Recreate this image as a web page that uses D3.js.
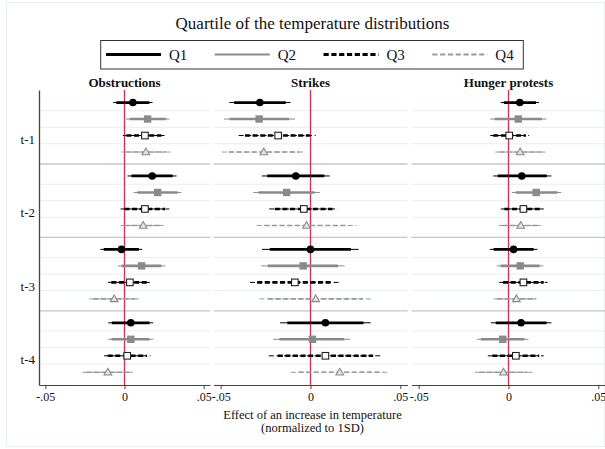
<!DOCTYPE html>
<html><head><meta charset="utf-8">
<script src="https://cdn.jsdelivr.net/npm/d3@7"></script>
<style>body{margin:0;background:#fff;} svg{display:block;font-family:"Liberation Serif","Times New Roman",serif;}</style>
</head><body>
<svg id="chart" width="605" height="449"></svg>
<script>
const outcomes = ["Obstructions", "Strikes", "Hunger protests"];
const lags = ["t-1", "t-2", "t-3", "t-4"];
const quartiles = ["Q1", "Q2", "Q3", "Q4"];
const xTicks = [-0.05, 0, 0.05];
const xTickLabels = ["-.05", "0", ".05"];

// rows: lag (t-1..t-4), columns: quartile (Q1..Q4)
const obstructionsEst  = [[0.0053, 0.0146, 0.0129, 0.0135],[0.0175, 0.0209, 0.0129, 0.0118],[-0.0019, 0.0108, 0.0034, -0.0065],[0.0040, 0.0040, 0.0017, -0.0105]];
const obstructionsLo95 = [[-0.0072, 0.0010, -0.0010, -0.0019],[0.0019, 0.0057, -0.0025, -0.0025],[-0.0152, -0.0042, -0.0105, -0.0222],[-0.0103, -0.0105, -0.0129, -0.0266]];
const obstructionsHi95 = [[0.0177, 0.0283, 0.0253, 0.0290],[0.0329, 0.0359, 0.0283, 0.0260],[0.0112, 0.0257, 0.0160, 0.0091],[0.0181, 0.0181, 0.0165, 0.0053]];
const obstructionsLo90 = [[-0.0052, 0.0032, 0.0012, 0.0006],[0.0044, 0.0081, 0.0000, -0.0002],[-0.0131, -0.0018, -0.0083, -0.0197],[-0.0080, -0.0082, -0.0106, -0.0240]];
const obstructionsHi90 = [[0.0157, 0.0261, 0.0233, 0.0265],[0.0304, 0.0335, 0.0258, 0.0237],[0.0091, 0.0233, 0.0140, 0.0066],[0.0158, 0.0158, 0.0141, 0.0028]];

const strikesEst  = [[-0.0282, -0.0286, -0.0180, -0.0260],[-0.0082, -0.0133, -0.0037, -0.0022],[0.0000, -0.0041, -0.0087, 0.0029],[0.0083, 0.0011, 0.0083, 0.0163]];
const strikesLo95 = [[-0.0452, -0.0482, -0.0400, -0.0493],[-0.0271, -0.0319, -0.0230, -0.0300],[-0.0270, -0.0276, -0.0337, -0.0285],[-0.0169, -0.0208, -0.0232, -0.0110]];
const strikesHi95 = [[-0.0111, -0.0087, 0.0029, -0.0026],[0.0107, 0.0052, 0.0152, 0.0256],[0.0268, 0.0190, 0.0163, 0.0342],[0.0335, 0.0222, 0.0400, 0.0439]];
const strikesLo90 = [[-0.0425, -0.0451, -0.0365, -0.0456],[-0.0241, -0.0289, -0.0199, -0.0256],[-0.0227, -0.0238, -0.0297, -0.0235],[-0.0129, -0.0173, -0.0182, -0.0066]];
const strikesHi90 = [[-0.0138, -0.0119, -0.0004, -0.0063],[0.0077, 0.0022, 0.0122, 0.0212],[0.0225, 0.0153, 0.0123, 0.0292],[0.0295, 0.0188, 0.0349, 0.0395]];

const hungerEst  = [[0.0063, 0.0054, 0.0004, 0.0065],[0.0074, 0.0154, 0.0083, 0.0068],[0.0028, 0.0065, 0.0083, 0.0044],[0.0070, -0.0032, 0.0041, -0.0028]];
const hungerLo95 = [[-0.0043, -0.0102, -0.0102, -0.0074],[-0.0085, 0.0018, -0.0043, -0.0054],[-0.0104, -0.0065, -0.0052, -0.0083],[-0.0098, -0.0176, -0.0115, -0.0187]];
const hungerHi95 = [[0.0170, 0.0211, 0.0115, 0.0205],[0.0239, 0.0294, 0.0209, 0.0180],[0.0161, 0.0194, 0.0218, 0.0172],[0.0239, 0.0111, 0.0196, 0.0133]];
const hungerLo90 = [[-0.0026, -0.0077, -0.0085, -0.0052],[-0.0060, 0.0040, -0.0023, -0.0034],[-0.0083, -0.0044, -0.0030, -0.0063],[-0.0071, -0.0153, -0.0090, -0.0162]];
const hungerHi90 = [[0.0153, 0.0186, 0.0097, 0.0183],[0.0213, 0.0272, 0.0189, 0.0162],[0.0140, 0.0173, 0.0196, 0.0152],[0.0212, 0.0088, 0.0171, 0.0107]];

const panelData = [
  {est: obstructionsEst, lo95: obstructionsLo95, hi95: obstructionsHi95, lo90: obstructionsLo90, hi90: obstructionsHi90},
  {est: strikesEst, lo95: strikesLo95, hi95: strikesHi95, lo90: strikesLo90, hi90: strikesHi90},
  {est: hungerEst, lo95: hungerLo95, hi95: hungerHi95, lo90: hungerLo90, hi90: hungerHi90}
];

// styles per quartile
const qColor = ["#000000", "#8a8a8a", "#000000", "#9a9a9a"];
const qDash = [null, null, "5,2.6", "5,2.6"];
const qThin = [1, 1, 1, 1];
const qThick = [2.8, 2.6, 2.6, 1.6];

const svg = d3.select("#chart");

// outer frame
svg.append("rect").attr("x", 6.5).attr("y", 2.5).attr("width", 598).attr("height", 444)
  .attr("fill", "#fff").attr("stroke", "#e9eef0").attr("stroke-width", 1);

// title
svg.append("text").attr("x", 312.5).attr("y", 29).attr("text-anchor", "middle")
  .attr("font-size", 17).attr("fill", "#111").text("Quartile of the temperature distributions");

// legend
const legend = svg.append("g");
legend.append("rect").attr("x", 100.7).attr("y", 40.5).attr("width", 422.6).attr("height", 28.5)
  .attr("fill", "#fff").attr("stroke", "#333").attr("stroke-width", 1);
const legX = d3.scalePoint().domain(quartiles).range([106, 432.3]);
const legW = [2.8, 2.2, 2.8, 2.0];
quartiles.forEach((q, i) => {
  const x0 = legX(q);
  legend.append("line").attr("x1", x0).attr("x2", x0 + 55).attr("y1", 54.5).attr("y2", 54.5)
    .attr("stroke", qColor[i]).attr("stroke-width", legW[i])
    .attr("stroke-dasharray", qDash[i] ? "5.2,2.6" : null);
  legend.append("text").attr("x", x0 + 63).attr("y", 59.5).attr("font-size", 15).attr("fill", "#111").text(q);
});

// y scale: slot index = lag*4.45 + quartile
const gapStep = 4.45;
const y = d3.scaleLinear().domain([-0.76, 17.12]).range([90, 385]);
const slot = (g, q) => g * gapStep + q;

const panelRanges = [[39, 210], [213.5, 407.5], [411.5, 605.5]];
const xDomain = [-0.054, 0.054];

outcomes.forEach((name, p) => {
  const x = d3.scaleLinear().domain(xDomain).range(panelRanges[p]);
  const g = svg.append("g");
  const [x0, x1] = panelRanges[p];

  g.append("text").attr("x", (x0 + x1) / 2).attr("y", 86.5).attr("text-anchor", "middle")
    .attr("font-size", 13).attr("font-weight", "bold").attr("fill", "#111").text(name);

  lags.forEach((lag, gi) => {
    for (let q = 0; q < 3; q++) {
      g.append("line").attr("x1", x0).attr("x2", x1)
        .attr("y1", y(slot(gi, q) + 0.5)).attr("y2", y(slot(gi, q) + 0.5))
        .attr("stroke", "#e6eef1").attr("stroke-width", 1);
    }
    if (gi < lags.length - 1) {
      const ys = y(slot(gi, 3) + (gapStep - 3) / 2);
      g.append("line").attr("x1", x0).attr("x2", x1).attr("y1", ys).attr("y2", ys)
        .attr("stroke", "#c6c6c6").attr("stroke-width", 1.4);
    }
  });

  g.append("line").attr("x1", x(0)).attr("x2", x(0)).attr("y1", y.range()[0]).attr("y2", y.range()[1])
    .attr("stroke", "#d92a55").attr("stroke-width", 1.3);

  const ax = g.append("g").attr("transform", `translate(0,${y.range()[1]})`)
    .call(d3.axisBottom(x).tickValues(xTicks).tickFormat((d, i) => xTickLabels[i]).tickSize(4).tickSizeOuter(0).tickPadding(3));
  ax.select(".domain").attr("stroke", "#444").attr("stroke-width", 1.1);
  ax.selectAll(".tick line").attr("stroke", "#444");
  ax.selectAll(".tick text").attr("font-size", 12).attr("fill", "#111")
    .attr("font-family", '"Liberation Serif","Times New Roman",serif');

  const D = panelData[p];
  lags.forEach((lag, gi) => {
    quartiles.forEach((qq, q) => {
      const yy = y(slot(gi, q));
      g.append("line").attr("x1", x(D.lo95[gi][q])).attr("x2", x(D.hi95[gi][q])).attr("y1", yy).attr("y2", yy)
        .attr("stroke", qColor[q]).attr("stroke-width", qThin[q]).attr("stroke-dasharray", qDash[q]);
      g.append("line").attr("x1", x(D.lo90[gi][q])).attr("x2", x(D.hi90[gi][q])).attr("y1", yy).attr("y2", yy)
        .attr("stroke", qColor[q]).attr("stroke-width", qThick[q]).attr("stroke-dasharray", qDash[q]);
      const cx = x(D.est[gi][q]);
      if (q === 0) {
        g.append("circle").attr("cx", cx).attr("cy", yy).attr("r", 3.8).attr("fill", "#000");
      } else if (q === 1) {
        g.append("rect").attr("x", cx - 3.7).attr("y", yy - 3.7).attr("width", 7.4).attr("height", 7.4).attr("fill", "#8a8a8a");
      } else if (q === 2) {
        g.append("rect").attr("x", cx - 3.3).attr("y", yy - 3.3).attr("width", 6.6).attr("height", 6.6)
          .attr("fill", "#fff").attr("stroke", "#222").attr("stroke-width", 1.1);
      } else {
        g.append("path").attr("d", d3.symbol(d3.symbolTriangle, 26)()).attr("transform", `translate(${cx},${yy + 0.5})`)
          .attr("fill", "#e4e4e4").attr("stroke", "#8a8a8a").attr("stroke-width", 1.1);
      }
    });
  });

  if (p === 0) {
    const yAx = g.append("g").attr("transform", `translate(${x0},0)`)
      .call(d3.axisLeft(y).tickValues(lags.map((l, gi) => slot(gi, 2.23))).tickFormat((d, i) => lags[i]).tickSize(0).tickPadding(4));
    yAx.select(".domain").attr("stroke", "#444").attr("stroke-width", 1.3);
    yAx.selectAll(".tick text").attr("font-size", 13).attr("fill", "#111")
      .attr("font-family", '"Liberation Serif","Times New Roman",serif');
  }
});

// x-axis title
svg.append("text").attr("x", 312.5).attr("y", 418.5).attr("text-anchor", "middle").attr("font-size", 12.5).attr("fill", "#111")
  .text("Effect of an increase in temperature");
svg.append("text").attr("x", 312.5).attr("y", 431.5).attr("text-anchor", "middle").attr("font-size", 12.5).attr("fill", "#111")
  .text("(normalized to 1SD)");
</script>
</body></html>
